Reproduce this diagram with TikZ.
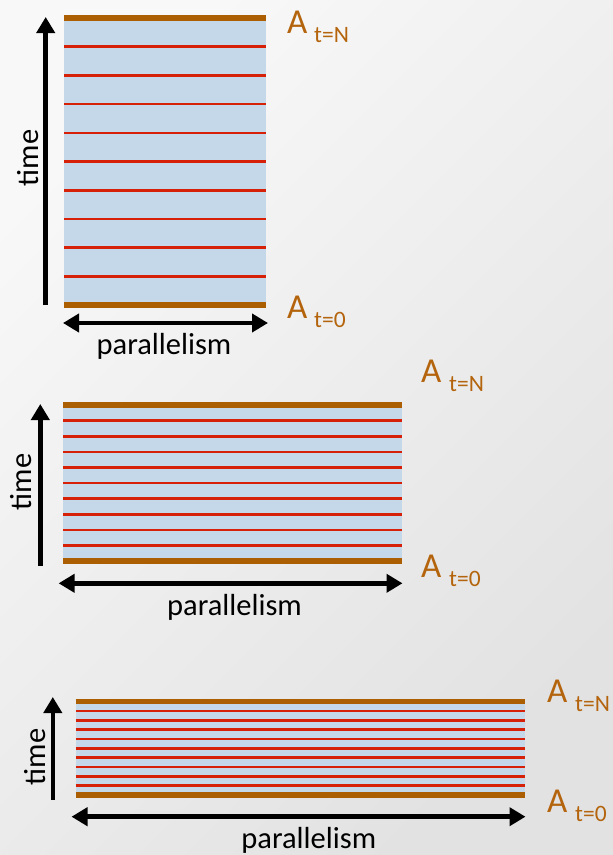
\documentclass[tikz,border=0pt]{standalone}
\usepackage{fontspec}
\setmainfont{Carlito}
\usetikzlibrary{arrows.meta}
\definecolor{bgA}{RGB}{248,248,248}
\definecolor{bgB}{RGB}{226,226,226}
\definecolor{brownbar}{RGB}{172,94,2}
\definecolor{browntext}{RGB}{180,100,12}
\definecolor{redline}{RGB}{214,32,8}
\definecolor{bluefill}{RGB}{197,216,234}
\tikzset{
  bar/.style={draw=brownbar, line width=6pt},
  thinbar/.style={draw=brownbar, line width=5.5pt},
  redl/.style={draw=redline, line width=2.6pt},
  blk/.style={draw=black, line width=4.5pt, -{Triangle[length=16pt,width=18pt]}},
  blkboth/.style={draw=black, line width=4.5pt, {Triangle[length=16pt,width=18pt]}-{Triangle[length=16pt,width=18pt]}},
  lbl/.style={font=\fontsize{30.5}{32}\selectfont, inner sep=0pt},
  bigA/.style={font=\fontsize{35}{36}\selectfont, text=browntext, inner sep=0pt, anchor=base west},
  subA/.style={font=\fontsize{23.5}{24}\selectfont, text=browntext, inner sep=0pt, anchor=base west},
}
\begin{document}
\begin{tikzpicture}[x=1pt,y=-1pt]
\useasboundingbox (0,0) rectangle (613,855);
\shade[top color=bgA, bottom color=bgB, shading angle=45] (0,0) rectangle (613,855);

% ---------- panel 1 ----------
\fill[bluefill] (64,18) rectangle (266,305);
\foreach \i in {1,...,9} \draw[redl] (64,{18+\i*28.7}) -- (266,{18+\i*28.7});
\draw[bar] (64,18) -- (266,18);
\draw[bar] (64,305) -- (266,305);
\coordinate (t1s) at (45.7,305); \coordinate (t1e) at (45.7,17);
\draw[blk] (t1s) -- (t1e);
\coordinate (p1s) at (63,323); \coordinate (p1e) at (268,323);
\draw[blkboth] (p1s) -- (p1e);
\node[lbl, rotate=90] (time1) at (28,158) {time};
\node[lbl] (par1) at (164,346) {parallelism};
\node[bigA] (a1n) at (287,33) {A};
\node[subA] (s1n) at (314,42) {t=N};
\node[bigA] (a10) at (287,318) {A};
\node[subA] (s10) at (314,327) {t=0};

% ---------- panel 2 ----------
\fill[bluefill] (63,405) rectangle (402,561);
\foreach \i in {1,...,9} \draw[redl] (63,{405+\i*15.6}) -- (402,{405+\i*15.6});
\draw[bar] (63,405) -- (402,405);
\draw[bar] (63,561) -- (402,561);
\coordinate (t2s) at (40.3,566); \coordinate (t2e) at (40.3,404);
\draw[blk] (t2s) -- (t2e);
\coordinate (p2s) at (58.6,583.3); \coordinate (p2e) at (402.5,583.3);
\draw[blkboth] (p2s) -- (p2e);
\node[lbl, rotate=90] (time2) at (21.5,482) {time};
\node[lbl] (par2) at (234.5,607) {parallelism};
\node[bigA] (a2n) at (421,382) {A};
\node[subA] (s2n) at (449,391) {t=N};
\node[bigA] (a20) at (421,577) {A};
\node[subA] (s20) at (449,586) {t=0};

% ---------- panel 3 ----------
\fill[bluefill] (75.5,701.7) rectangle (525,795);
\foreach \i in {1,...,9} \draw[redl] (75.5,{701.7+\i*9.33}) -- (525,{701.7+\i*9.33});
\draw[thinbar] (75.5,701.7) -- (525,701.7);
\draw[thinbar] (75.5,795) -- (525,795);
\coordinate (t3s) at (52.8,800); \coordinate (t3e) at (52.8,697);
\draw[blk] (t3s) -- (t3e);
\coordinate (p3s) at (71.5,816.7); \coordinate (p3e) at (525.5,816.7);
\draw[blkboth] (p3s) -- (p3e);
\node[lbl, rotate=90] (time3) at (35.2,757) {time};
\node[lbl] (par3) at (308.8,840) {parallelism};
\node[bigA] (a3n) at (547,702) {A};
\node[subA] (s3n) at (575,711) {t=N};
\node[bigA] (a30) at (547,812) {A};
\node[subA] (s30) at (575,821) {t=0};
\end{tikzpicture}
\end{document}
